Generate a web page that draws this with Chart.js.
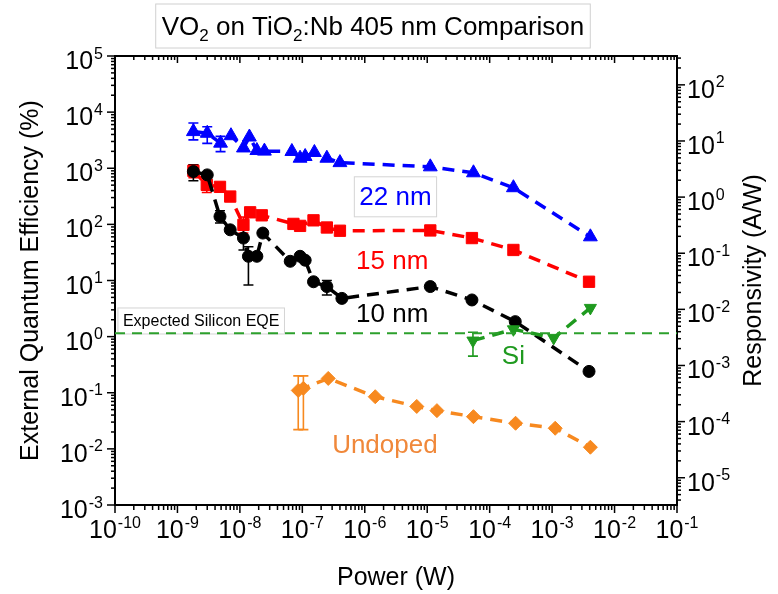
<!DOCTYPE html>
<html><head><meta charset="utf-8">
<script src="https://cdn.jsdelivr.net/npm/chart.js@4.4.1/dist/chart.umd.min.js"></script>
<style>html,body{margin:0;padding:0;background:#fff}canvas{display:block}</style>
</head><body>
<canvas id="c" width="778" height="594"></canvas>
<script>
// ---------------- data (Power in W, EQE in %) ----------------
const power22 = [1.8e-9, 3.0e-9, 4.9e-9, 7.2e-9, 1.14e-8, 1.42e-8, 1.87e-8, 2.47e-8, 6.8e-8, 9.2e-8, 1.11e-7, 1.56e-7, 2.47e-7, 4.0e-7, 1.12e-5, 5.5e-5, 2.4e-4, 4.1e-3];
const eqe22   = [4500, 4200, 2800, 3800, 2300, 3600, 2070, 2020, 1990, 1510, 1620, 1910, 1510, 1260, 1060, 830, 450, 60];
const lo22    = [3200, 2780, 1980, null, null, null, null, null, null, null, null, null, null, null, null, null, null, null];
const hi22    = [6400, 5500, 3700, null, null, null, null, null, null, null, null, null, null, null, null, null, null, null];

const power15 = [1.8e-9, 2.95e-9, 4.8e-9, 7.0e-9, 1.14e-8, 1.46e-8, 2.24e-8, 7.2e-8, 9.2e-8, 1.51e-7, 2.47e-7, 4.0e-7, 1.12e-5, 5.2e-5, 2.4e-4, 3.9e-3];
const eqe15   = [900, 506, 466, 313, 98, 164, 145, 102, 94, 118, 88, 77, 78, 57, 35, 9.5];
const lo15    = [680, 370, null, null, 70, null, null, null, null, null, null, null, null, null, null, null];
const hi15    = [1150, 690, null, null, 135, null, null, null, null, null, null, null, null, null, null, null];

const power10 = [1.8e-9, 3.0e-9, 4.8e-9, 7.0e-9, 1.14e-8, 1.37e-8, 1.87e-8, 2.33e-8, 6.4e-8, 9.2e-8, 1.11e-7, 1.51e-7, 2.47e-7, 4.3e-7, 1.12e-5, 5.2e-5, 2.57e-4, 3.9e-3];
const eqe10   = [873, 762, 138, 80, 57, 27, 27, 70, 22, 27, 23, 9.5, 7.8, 4.8, 7.8, 4.5, 1.85, 0.24];
const lo10    = [600, null, 106, null, 35, 8.3, null, null, null, null, null, null, 5.5, null, null, null, null, null];
const hi10    = [1150, null, 175, null, 80, 40, null, null, null, null, null, null, 10, null, null, null, null, null];

const powerSi = [5.4e-5, 2.4e-4, 1.06e-3, 4.1e-3];
const eqeSi   = [0.85, 1.35, 0.95, 3.25];
const loSi    = [0.45, null, null, null];
const hiSi    = [1.2, null, null, null];

const powerUn = [8.6e-8, 1.04e-7, 2.6e-7, 1.47e-6, 6.8e-6, 1.43e-5, 5.5e-5, 2.6e-4, 1.12e-3, 4.1e-3];
const eqeUn   = [0.11, 0.12, 0.18, 0.085, 0.057, 0.048, 0.0375, 0.0286, 0.0233, 0.0107];
const loUn    = [0.022, 0.022, null, null, null, null, null, null, null, null];
const hiUn    = [0.2, 0.2, null, null, null, null, null, null, null, null];

const siExpectedPower = [1e-10, 1e-1];
const siExpectedEqe   = [1.15, 1.15];

const xTickExps  = [-10, -9, -8, -7, -6, -5, -4, -3, -2, -1];
const yTickExps  = [-3, -2, -1, 0, 1, 2, 3, 4, 5];
const y2TickExps = [-5, -4, -3, -2, -1, 0, 1, 2];
const WAVELENGTH_NM = 405;
const R_PER_EQE = WAVELENGTH_NM / 1240 / 100; // (A/W) per % EQE

// ---------------- styles ----------------
const FONT = '"Liberation Sans", Arial, Helvetica, sans-serif';
const BLUE = '#0000ff', RED = '#ff0000', BLACK = '#000000', GREEN = '#1f9a1f', GREEN2 = '#2ca02c', ORANGE = '#f7891f';

const pts = (p, v) => p.map((x, i) => ({x: x, y: v[i]}));
function series(label, p, v, color, style, radius, rot) {
  return {
    label, data: pts(p, v), showLine: true, borderColor: color, backgroundColor: color,
    borderWidth: 3.5, borderDash: [12, 8], pointStyle: style, pointRadius: radius,
    pointRotation: rot || 0, pointBorderWidth: 1, pointBorderColor: color, pointHoverRadius: radius,
    tension: 0, xAxisID: 'x', yAxisID: 'y'
  };
}

const errSets = [
  {p: power22, lo: lo22, hi: hi22, c: BLUE},
  {p: power15, lo: lo15, hi: hi15, c: RED},
  {p: power10, lo: lo10, hi: hi10, c: BLACK},
  {p: powerSi, lo: loSi, hi: hiSi, c: GREEN},
  {p: powerUn, lo: loUn, hi: hiUn, c: ORANGE}
];

function drawPow(ctx, exp, x, y, align, big, small) {
  ctx.font = big + 'px ' + FONT;
  const wb = ctx.measureText('10').width;
  const es = String(exp);
  ctx.font = small + 'px ' + FONT;
  const we = ctx.measureText(es).width;
  const w = wb + we + 1;
  let x0 = align === 'center' ? x - w / 2 : (align === 'right' ? x - w : x);
  ctx.textAlign = 'left'; ctx.textBaseline = 'alphabetic';
  ctx.font = big + 'px ' + FONT; ctx.fillText('10', x0, y);
  ctx.font = small + 'px ' + FONT; ctx.fillText(es, x0 + wb + 1, y - big * 0.42);
}

function tickSet(minE, maxE, lo, hi) {
  const out = [];
  for (let e = minE; e <= maxE; e++) for (let m = 1; m <= 9; m++) {
    const v = m * Math.pow(10, e);
    if (v >= lo * 0.999 && v <= hi * 1.001) out.push({v, major: m === 1});
  }
  return out;
}

const deco = {
  id: 'deco',
  beforeDatasetsDraw(chart) {
    const ctx = chart.ctx, X = chart.scales.x, Y = chart.scales.y;
    ctx.save();
    // "Expected Silicon EQE" label box
    ctx.font = '16px ' + FONT;
    const t1 = 'Expected Silicon EQE';
    const w1 = ctx.measureText(t1).width;
    const bx = X.getPixelForValue(1.34e-10), by = Y.getPixelForValue(1.9);
    ctx.fillStyle = '#fff'; ctx.strokeStyle = '#d4d4d4'; ctx.lineWidth = 1;
    ctx.fillRect(bx - 5, by - 13, w1 + 10, 26); ctx.strokeRect(bx - 5, by - 13, w1 + 10, 26);
    ctx.fillStyle = '#000'; ctx.textAlign = 'left'; ctx.textBaseline = 'middle';
    ctx.fillText(t1, bx, by + 1);
    // "22 nm" box
    ctx.font = '26px ' + FONT;
    const t2 = '22 nm', w2 = ctx.measureText(t2).width;
    const cx2 = X.getPixelForValue(3.1e-6), cy2 = Y.getPixelForValue(310);
    ctx.fillStyle = '#fff'; ctx.strokeStyle = '#d4d4d4';
    ctx.fillRect(cx2 - w2 / 2 - 5, cy2 - 20, w2 + 10, 40); ctx.strokeRect(cx2 - w2 / 2 - 5, cy2 - 20, w2 + 10, 40);
    ctx.fillStyle = BLUE; ctx.textAlign = 'center'; ctx.textBaseline = 'middle';
    ctx.fillText(t2, cx2, cy2 + 1);
    // error bars
    ctx.lineWidth = 1.6;
    errSets.forEach(s => {
      ctx.strokeStyle = s.c;
      s.p.forEach((p, i) => {
        if (s.lo[i] == null) return;
        const x = X.getPixelForValue(p), y1 = Y.getPixelForValue(s.lo[i]), y2 = Y.getPixelForValue(s.hi[i]);
        ctx.beginPath();
        ctx.moveTo(x, y1); ctx.lineTo(x, y2);
        ctx.moveTo(x - 5, y1); ctx.lineTo(x + 5, y1);
        ctx.moveTo(x - 5, y2); ctx.lineTo(x + 5, y2);
        ctx.stroke();
      });
    });
    ctx.restore();
  },
  afterDraw(chart) {
    const ctx = chart.ctx, a = chart.chartArea;
    const X = chart.scales.x, Y = chart.scales.y, Y2 = chart.scales.y2;
    ctx.save();
    ctx.strokeStyle = '#000'; ctx.lineWidth = 1.5;
    // x ticks (bottom outward, top inward)
    tickSet(-10, -1, 1e-10, 1e-1).forEach(t => {
      const x = X.getPixelForValue(t.v), L = t.major ? 8 : 5;
      ctx.beginPath(); ctx.moveTo(x, a.bottom); ctx.lineTo(x, a.bottom + L);
      ctx.moveTo(x, a.top); ctx.lineTo(x, a.top + (t.major ? 7 : 4)); ctx.stroke();
    });
    // left ticks (outward)
    tickSet(-3, 5, 1e-3, 1e5).forEach(t => {
      const y = Y.getPixelForValue(t.v), L = t.major ? 8 : 4;
      ctx.beginPath(); ctx.moveTo(a.left, y); ctx.lineTo(a.left - L, y); ctx.stroke();
    });
    // right ticks (outward)
    tickSet(-6, 2, Y2.min, Y2.max).forEach(t => {
      const y = Y2.getPixelForValue(t.v), L = t.major ? 8 : 4;
      ctx.beginPath(); ctx.moveTo(a.right, y); ctx.lineTo(a.right + L, y); ctx.stroke();
    });
    // tick labels
    ctx.fillStyle = '#000';
    xTickExps.forEach(e => drawPow(ctx, e, X.getPixelForValue(Math.pow(10, e)), a.bottom + 33, 'center', 25, 16));
    yTickExps.forEach(e => drawPow(ctx, e, a.left - 12, Y.getPixelForValue(Math.pow(10, e)) + 13, 'right', 25, 16));
    y2TickExps.forEach(e => drawPow(ctx, e, a.right + 10, Y2.getPixelForValue(Math.pow(10, e)) + 13, 'left', 25, 16));
    // axis titles
    ctx.font = '25px ' + FONT; ctx.textAlign = 'center'; ctx.textBaseline = 'middle';
    ctx.fillText('Power (W)', (a.left + a.right) / 2, 578);
    ctx.save(); ctx.translate(31, (a.top + a.bottom) / 2); ctx.rotate(-Math.PI / 2);
    ctx.fillText('External Quantum Efficiency (%)', 0, 0); ctx.restore();
    ctx.save(); ctx.translate(754, (a.top + a.bottom) / 2); ctx.rotate(-Math.PI / 2);
    ctx.fillText('Responsivity (A/W)', 0, 0); ctx.restore();
    // series labels
    const note = (txt, p, v, color, size) => {
      ctx.font = size + 'px ' + FONT; ctx.fillStyle = color; ctx.textAlign = 'center'; ctx.textBaseline = 'middle';
      ctx.fillText(txt, X.getPixelForValue(p), Y.getPixelForValue(v));
    };
    note('15 nm', 2.75e-6, 21.5, RED, 26);
    note('10 nm', 2.75e-6, 2.44, BLACK, 26);
    note('Si', 2.4e-4, 0.435, GREEN, 26);
    note('Undoped', 2.1e-6, 0.0113, '#f0883a', 26);
    // title box
    const big = 26, small = 17;
    const segs = [['VO', 0], ['2', 1], [' on TiO', 0], ['2', 1], [':Nb 405 nm Comparison', 0]];
    let tw = 0;
    segs.forEach(s => { ctx.font = (s[1] ? small : big) + 'px ' + FONT; tw += ctx.measureText(s[0]).width; });
    const tcx = 373, tx0 = tcx - tw / 2;
    ctx.fillStyle = '#fff'; ctx.strokeStyle = '#d0d0d0'; ctx.lineWidth = 1;
    ctx.fillRect(tx0 - 6, 4, tw + 12, 44); ctx.strokeRect(tx0 - 6, 4, tw + 12, 44);
    ctx.fillStyle = '#000'; ctx.textAlign = 'left'; ctx.textBaseline = 'alphabetic';
    let cx = tx0;
    segs.forEach(s => {
      ctx.font = (s[1] ? small : big) + 'px ' + FONT;
      ctx.fillText(s[0], cx, s[1] ? 41 : 35);
      cx += ctx.measureText(s[0]).width;
    });
    ctx.restore();
  }
};

const logAxis = (pos, min, max) => ({
  type: 'logarithmic', position: pos, min, max, bounds: 'data',
  ticks: {display: false}, grid: {display: false, drawTicks: false},
  border: {display: true, color: '#000', width: 2}, title: {display: false}
});

new Chart(document.getElementById('c'), {
  type: 'scatter',
  data: {
    datasets: [
      {label: 'Expected Silicon EQE', data: pts(siExpectedPower, siExpectedEqe), showLine: true,
       borderColor: GREEN2, borderWidth: 2, borderDash: [10, 7], pointRadius: 0, xAxisID: 'x', yAxisID: 'y'},
      series('Undoped', powerUn, eqeUn, ORANGE, 'rectRot', 7),
      series('Si', powerSi, eqeSi, GREEN, 'triangle', 7, 180),
      series('10 nm', power10, eqe10, BLACK, 'circle', 6),
      series('15 nm', power15, eqe15, RED, 'rect', 8),
      series('22 nm', power22, eqe22, BLUE, 'triangle', 8)
    ]
  },
  options: {
    responsive: false, animation: false, devicePixelRatio: 1,
    layout: {padding: {left: 115, right: 101, top: 56, bottom: 89}},
    plugins: {legend: {display: false}, title: {display: false}, tooltip: {enabled: false}},
    scales: {
      x: logAxis('bottom', 1e-10, 1e-1),
      x2: logAxis('top', 1e-10, 1e-1),
      y: logAxis('left', 1e-3, 1e5),
      y2: logAxis('right', 1e-3 * R_PER_EQE, 1e5 * R_PER_EQE)
    }
  },
  plugins: [deco]
});
</script>
</body></html>
